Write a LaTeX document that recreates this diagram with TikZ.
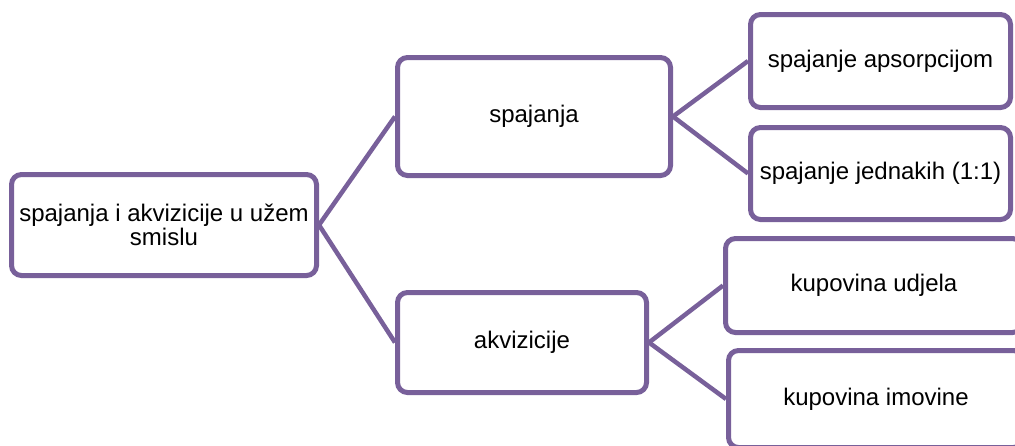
\documentclass[tikz,border=0pt]{standalone}
\usepackage{fontspec}
\setmainfont{Liberation Sans}
\definecolor{boxpurple}{RGB}{120,96,154}
\begin{document}
\begin{tikzpicture}[x=1pt,y=-1pt,
  box/.style={draw=boxpurple,line width=5pt,rounded corners=10pt,fill=white,
    inner sep=0pt,align=center,font=\fontsize{24}{21.5}\selectfont},
  link/.style={draw=boxpurple,line width=4.5pt}]
\useasboundingbox (0,0) rectangle (1015,445);
\clip (0,0) rectangle (1015,445);
\node[box,minimum width=305pt,minimum height=101pt] (root) at (164,225)
  {spajanja i akvizicije u užem\\smislu};
\node[box,minimum width=273pt,minimum height=118pt] (sp) at (534,116.5) {spajanja};
\node[box,minimum width=249pt,minimum height=100pt] (ak) at (522,342.5) {akvizicije};
\node[box,minimum width=260pt,minimum height=93pt] (aps) at (880.5,61) {spajanje apsorpcijom};
\node[box,minimum width=260pt,minimum height=92pt] (jed) at (880.5,173.5) {spajanje jednakih (1:1)};
\node[box,minimum width=297pt,minimum height=94pt] (udj) at (874,285.5) {kupovina udjela};
\node[box,minimum width=295pt,minimum height=97pt] (imo) at (876,399) {kupovina imovine};
\draw[link] (root.east) -- (sp.west);
\draw[link] (root.east) -- (ak.west);
\draw[link] (sp.east) -- (aps.west);
\draw[link] (sp.east) -- (jed.west);
\draw[link] (ak.east) -- (udj.west);
\draw[link] (ak.east) -- (imo.west);
\end{tikzpicture}
\end{document}
